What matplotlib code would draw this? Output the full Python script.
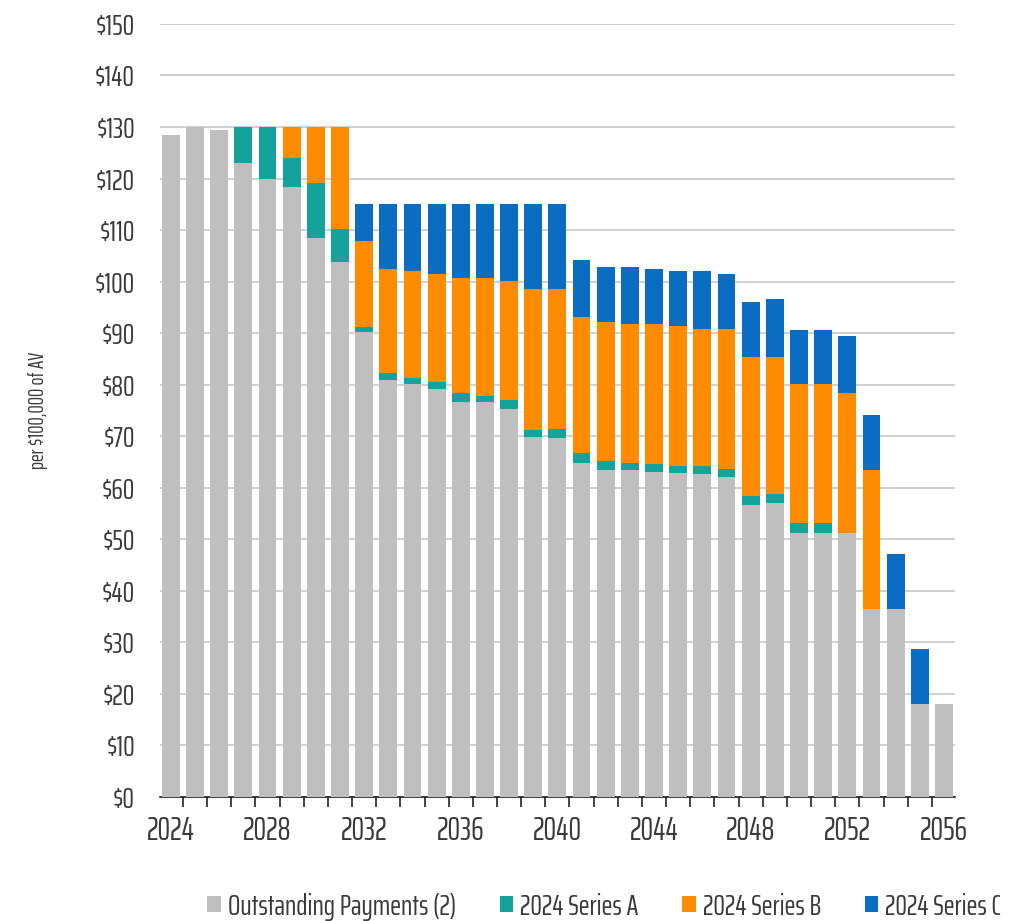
import matplotlib
matplotlib.use("Agg")
import matplotlib.pyplot as plt
import numpy as np
from matplotlib.ticker import FixedLocator, FuncFormatter

plt.rcParams["font.family"] = ["Saira ExtraCondensed", "Roboto Condensed", "DejaVu Sans"]

years = list(range(2024, 2057))
outstanding = [128.5, 130.0, 129.5, 123.0, 120.0, 118.3, 108.4, 103.8, 90.3, 81.0,
               80.1, 79.2, 76.6, 76.6, 75.2, 69.9, 69.7, 64.8, 63.5, 63.4,
               63.0, 62.9, 62.6, 62.1, 56.7, 57.0, 51.2, 51.2, 51.2, 36.5,
               36.5, 18.1, 18.1]
series_a = [0, 0, 0, 7.0, 10.0, 5.6, 10.7, 6.4, 0.9, 1.2,
            1.3, 1.3, 1.7, 1.2, 1.8, 1.3, 1.7, 1.9, 1.7, 1.4,
            1.7, 1.3, 1.6, 1.5, 1.7, 1.8, 1.9, 1.9, 0, 0,
            0, 0, 0]
series_b = [0, 0, 0, 0, 0, 6.1, 10.9, 19.8, 16.7, 20.3,
            20.7, 21.0, 22.4, 22.9, 23.1, 27.3, 27.1, 26.4, 27.0, 26.9,
            27.0, 27.1, 26.7, 27.3, 27.0, 26.6, 27.0, 27.0, 27.1, 26.9,
            0, 0, 0]
series_c = [0, 0, 0, 0, 0, 0, 0, 0, 7.1, 12.5,
            12.9, 13.5, 14.3, 14.3, 14.9, 16.5, 16.5, 11.1, 10.7, 11.2,
            10.7, 10.7, 11.1, 10.6, 10.7, 11.2, 10.6, 10.6, 11.1, 10.8,
            10.7, 10.7, 0]

labels = ["Outstanding Payments (2)", "2024 Series A", "2024 Series B", "2024 Series C"]
colors = ["#BFBFBF", "#14A39A", "#FF8C00", "#0A6DC2"]
text_col = "#3A3A3A"

fig = plt.figure(figsize=(10.19, 9.21), dpi=100)
ax = fig.add_axes([0.157, 0.1346, 0.78, 0.8394])

x = np.array(years)
bottom = np.zeros(len(years))
for vals, lab, col in zip([outstanding, series_a, series_b, series_c], labels, colors):
    v = np.array(vals, dtype=float)
    ax.bar(x, v, width=0.74, bottom=bottom, color=col, label=lab, zorder=3)
    bottom += v

ax.set_xlim(2023.55, 2056.45)
ax.set_ylim(0, 150)
ax.set_yticks(np.arange(0, 151, 10))
ax.yaxis.set_major_formatter(FuncFormatter(lambda v, p: f"${v:.0f}"))
ax.grid(axis="y", color="#C8C8C8", linewidth=1.2, zorder=0)
for side in ["left", "right", "top"]:
    ax.spines[side].set_visible(False)
ax.spines["bottom"].set_color("#222222")
ax.spines["bottom"].set_linewidth(1.2)

ax.set_xticks(years[::4])
ax.xaxis.set_minor_locator(FixedLocator(np.arange(2023.5, 2057, 1.0)))
ax.tick_params(axis="x", which="major", length=0, pad=14, labelsize=23, colors=text_col)
ax.tick_params(axis="x", which="minor", length=7, width=1.2, color="#222222", direction="out")
ax.tick_params(axis="y", length=0, pad=18, labelsize=21, colors=text_col)

ax.set_ylabel("per $100,000 of AV", fontsize=15, color=text_col, labelpad=34)

fig.legend(loc="lower center", bbox_to_anchor=(0.593, -0.028), ncol=4, frameon=False,
           fontsize=21, handlelength=0.45, handleheight=0.45, handletextpad=0.25,
           columnspacing=1.5, labelcolor=text_col)

fig.savefig("out.png", dpi=100)
